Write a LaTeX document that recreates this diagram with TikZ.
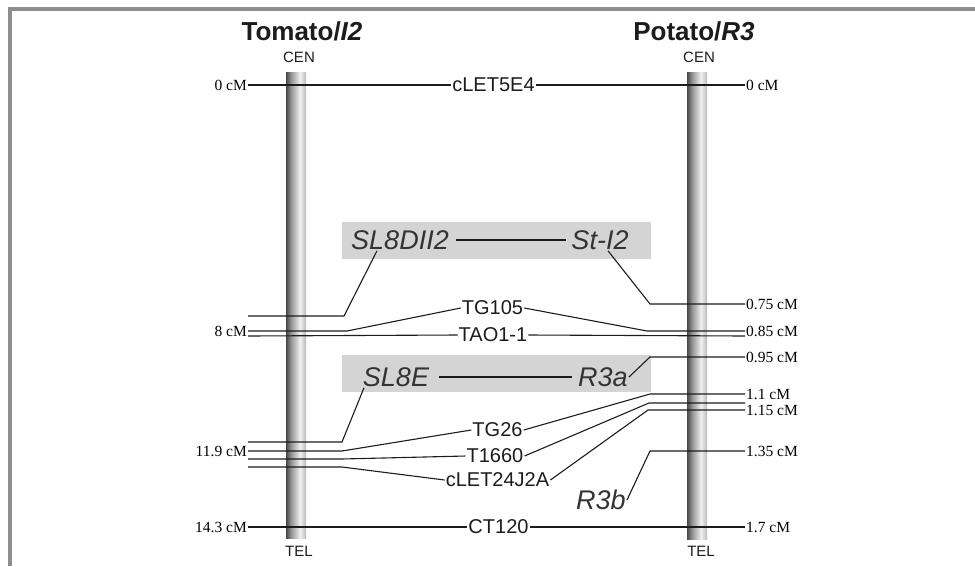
\documentclass[tikz,border=0pt]{standalone}
\usepackage{fontspec}
\setmainfont{Liberation Sans}
\newfontfamily\cmfont{Liberation Serif}
\usetikzlibrary{positioning}
\definecolor{framegray}{RGB}{142,142,142}
\definecolor{boxgray}{RGB}{212,212,212}
\definecolor{inkdark}{RGB}{28,28,28}
\definecolor{bardark}{RGB}{72,72,72}
\definecolor{barmid}{RGB}{150,150,150}
\definecolor{barlight}{RGB}{240,240,240}
\definecolor{barright}{RGB}{185,185,185}
\pgfdeclarehorizontalshading{chromshade}{100bp}{color(0bp)=(bardark); color(25bp)=(bardark); color(38bp)=(barmid); color(60bp)=(barlight); color(75bp)=(barright); color(100bp)=(barright)}

\begin{document}
\begin{tikzpicture}[
    x=1pt, y=-1pt,
    chromBar/.style={rectangle, shade, shading=chromshade, minimum width=20pt, inner sep=0pt},
    titleText/.style={font=\fontsize{26}{30}\selectfont\bfseries, color=inkdark},
    endText/.style={font=\fontsize{15}{17}\selectfont, color=inkdark},
    markerText/.style={font=\fontsize{20}{22}\selectfont, color=inkdark, inner sep=1pt},
    geneText/.style={font=\fontsize{27}{30}\selectfont\itshape, color=black!80, inner sep=1pt},
    leftCM/.style={font=\cmfont\fontsize{15.5}{17}\selectfont, anchor=east, inner sep=1pt},
    rightCM/.style={font=\cmfont\fontsize{15.5}{17}\selectfont, anchor=west, inner sep=1pt},
    mapLine/.style={draw=inkdark, line width=1.1pt},
    geneLine/.style={draw=inkdark, line width=2pt},
    geneBox/.style={rectangle, fill=boxgray, minimum width=309pt, minimum height=37pt, inner sep=0pt}
]
\useasboundingbox (0,0) rectangle (975,566);

% Frame
\fill[framegray] (8,7) rectangle (975,10.5);
\fill[framegray] (8,7) rectangle (11.5,566);

% Chromosomes
\node[chromBar, minimum height=466pt] (tomBar) at (296,305) {};
\node[chromBar, minimum height=467pt] (potBar) at (697,305.5) {};
\node[titleText] (tomTitle) at (302,31) {Tomato/\textit{I2}};
\node[titleText] (potTitle) at (694,31) {Potato/\textit{R3}};
\node[endText] (tomCen) at (299,57) {CEN};
\node[endText] (potCen) at (699,57) {CEN};
\node[endText] (tomTel) at (299,551) {TEL};
\node[endText] (potTel) at (701,551) {TEL};

% Gene boxes
\node[geneBox] (boxI2) at (496.5,240.5) {};
\node[geneBox] (boxR3a) at (496.5,373.5) {};
\node[geneText] (sl8d) at (400,240) {SL8DII2};
\node[geneText] (stI2) at (600,240) {St-I2};
\node[geneText] (sl8e) at (396,377) {SL8E};
\node[geneText] (r3a) at (603,377) {R3a};
\node[geneText] (r3b) at (601,500) {R3b};

% Markers
\node[markerText] (cLET5E4) at (493.5,85) {cLET5E4};
\node[markerText] (tg105) at (492.5,308) {TG105};
\node[markerText] (tao11) at (493,335) {TAO1-1};
\node[markerText] (tg26) at (497.5,430) {TG26};
\node[markerText] (t1660) at (495,456) {T1660};
\node[markerText] (cLET24) at (497.5,480) {cLET24J2A};
\node[markerText] (ct120) at (498.5,527) {CT120};

% Left positions (tomato)
\node[leftCM] (lcm0) at (248,85) {0 cM};
\node[leftCM] (lcm8) at (248,331) {8 cM};
\node[leftCM] (lcm119) at (248,451) {11.9 cM};
\node[leftCM] (lcm143) at (248,527) {14.3 cM};
\coordinate (sl8dL) at (248,316);
\coordinate (taoL) at (248,336);
\coordinate (sl8eL) at (248,442);
\coordinate (t1660L) at (248,459);
\coordinate (cLET24L) at (248,467);

% Right positions (potato)
\node[rightCM] (rcm0) at (745,85) {0 cM};
\node[rightCM] (rcm075) at (745,304) {0.75 cM};
\node[rightCM] (rcm085) at (745,331) {0.85 cM};
\node[rightCM] (rcm095) at (745,357) {0.95 cM};
\node[rightCM] (rcm11) at (745,394) {1.1 cM};
\node[rightCM] (rcm115) at (745,410) {1.15 cM};
\node[rightCM] (rcm135) at (745,451) {1.35 cM};
\node[rightCM] (rcm17) at (745,527) {1.7 cM};
\coordinate (taoR) at (745,336);
\coordinate (t1660R) at (745,403);

% Gene links
\draw[geneLine, shorten <=6pt, shorten >=4pt] (sl8d) -- (stI2);
\draw[geneLine, shorten <=9pt, shorten >=5pt] (sl8e) -- (r3a);
\draw[mapLine] ([xshift=-23pt]sl8d.south) -- ([xshift=96pt]sl8dL) -- (sl8dL);
\draw[mapLine] ([xshift=8pt]stI2.south) -- ([xshift=-95pt]rcm075.west) -- (rcm075.west);
\draw[mapLine] ([xshift=-32pt]sl8e.south) -- ([xshift=94pt]sl8eL) -- (sl8eL);
\draw[mapLine] (r3a.east) -- ([xshift=-95pt]rcm095.west) -- (rcm095.west);
\draw[mapLine] (r3b.east) -- ([xshift=-95pt]rcm135.west) -- (rcm135.west);

% Marker links
\draw[mapLine] (lcm0.east) -- (cLET5E4.west);
\draw[mapLine] (cLET5E4.east) -- (rcm0.west);
\draw[mapLine] (lcm8.east) -- ++(99,0) -- (tg105.west);
\draw[mapLine] (tg105.east) -- ([xshift=-98pt]rcm085.west) -- (rcm085.west);
\draw[mapLine] (taoL) -- (tao11.west);
\draw[mapLine] (tao11.east) -- (taoR);
\draw[mapLine] (lcm119.east) -- ++(94,0) -- (tg26.west);
\draw[mapLine] (tg26.east) -- ([xshift=-95pt]rcm11.west) -- (rcm11.west);
\draw[mapLine] (t1660L) -- ([xshift=94pt]t1660L) -- (t1660.west);
\draw[mapLine] (t1660.east) -- ([xshift=-96pt]t1660R) -- (t1660R);
\draw[mapLine] (cLET24L) -- ([xshift=94pt]cLET24L) -- (cLET24.west);
\draw[mapLine] (cLET24.east) -- ([xshift=-97pt]rcm115.west) -- (rcm115.west);
\draw[mapLine] (lcm143.east) -- (ct120.west);
\draw[mapLine] (ct120.east) -- (rcm17.west);

\end{tikzpicture}
\end{document}
